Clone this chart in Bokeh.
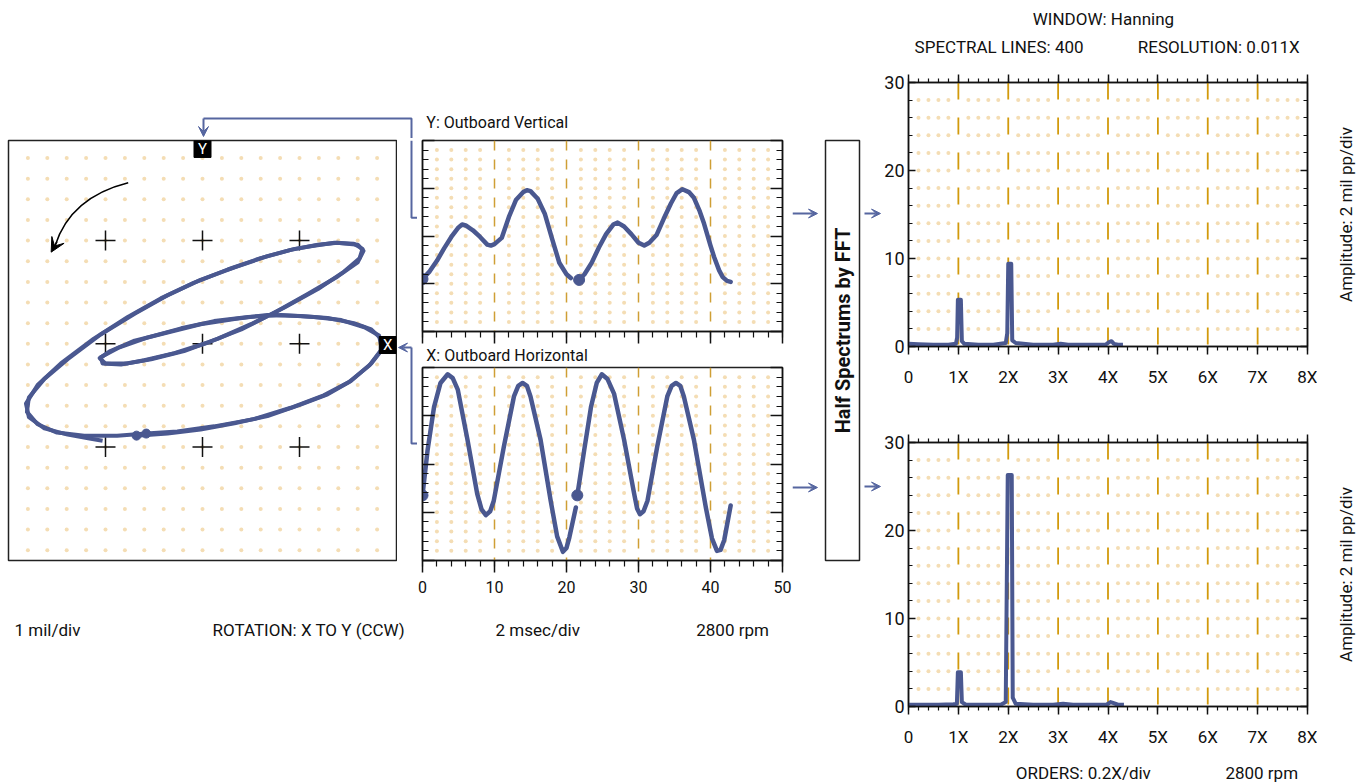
import numpy as np
from bokeh.plotting import figure
from bokeh.models import (Range1d, LinearAxis, SingleIntervalTicker, Label, Arrow, VeeHead)
from bokeh.layouts import row, column
from bokeh.embed import file_html
from bokeh.resources import INLINE
from bokeh.core.properties import value

FONT = "Roboto"
BLUE = "#4A5890"
CONN = "#5666A0"
DOT = "#F4DDB4"
WDASH = "#CF9F35"
SDASH = "#D29A0C"
INK = "#111111"

# ---------------- data ----------------
# orbit (mil), two revolutions
orbit_x1 = [-0.68, -0.36, -0.02, 0.33, 0.67, 1.01, 1.29, 1.53, 1.74, 1.84, 1.84, 1.74, 1.56, 1.29,
            1.01, 0.67, 0.33, -0.02, -0.36, -0.70, -0.95, -1.06, -1.00, -0.77, -0.53, -0.19, 0.16,
            0.50, 0.84, 1.19, 1.46, 1.62, 1.65, 1.56, 1.36, 1.15, 0.95, 0.67, 0.33, -0.02, -0.36,
            -0.70, -1.05, -1.39, -1.63, -1.79, -1.81, -1.70, -1.50, -1.22, -0.88, -0.58]
orbit_y1 = [-0.89, -0.87, -0.83, -0.77, -0.70, -0.59, -0.49, -0.36, -0.19, -0.07, 0.05, 0.14, 0.20,
            0.25, 0.27, 0.28, 0.24, 0.19, 0.11, 0.03, -0.07, -0.14, -0.19, -0.19, -0.15, -0.07, 0.05,
            0.19, 0.35, 0.53, 0.70, 0.83, 0.92, 0.97, 0.98, 0.95, 0.92, 0.85, 0.74, 0.62, 0.47, 0.29,
            0.09, -0.15, -0.34, -0.52, -0.66, -0.78, -0.86, -0.89, -0.89, -0.87]
orbit_x2 = [-0.58, -0.26, 0.12, 0.53, 0.91, 1.25, 1.51, 1.72, 1.85, 1.82, 1.67, 1.43, 1.15, 0.81,
            0.47, 0.12, -0.22, -0.57, -0.87, -1.05, -1.03, -0.84, -0.60, -0.29, 0.05, 0.40, 0.74,
            1.08, 1.39, 1.60, 1.66, 1.60, 1.39, 1.19, 0.91, 0.60, 0.26, -0.09, -0.43, -0.77, -1.12,
            -1.46, -1.70, -1.82, -1.79, -1.63, -1.39, -1.15, -1.03]
orbit_y2 = [-0.87, -0.85, -0.80, -0.73, -0.62, -0.50, -0.37, -0.21, -0.05, 0.08, 0.16, 0.23, 0.26,
            0.28, 0.26, 0.22, 0.15, 0.06, -0.04, -0.13, -0.19, -0.20, -0.16, -0.09, 0.01, 0.14, 0.30,
            0.48, 0.65, 0.79, 0.90, 0.96, 0.98, 0.96, 0.91, 0.83, 0.72, 0.59, 0.44, 0.26, 0.05, -0.19,
            -0.40, -0.58, -0.71, -0.82, -0.88, -0.92, -0.94]
cross_x = [-1, 0, 1, -1, 0, 1, -1, 0, 1]
cross_y = [1, 1, 1, 0, 0, 0, -1, -1, -1]

# Y: Outboard Vertical waveform (msec, divisions)
wy_t1 = [0, 1, 2, 3, 4, 5, 5.5, 6, 7, 8, 9, 9.5, 10, 11, 12, 13, 14, 14.5, 15, 16, 17, 18, 19, 20, 20.6]
wy_v1 = [-4.5, -3.7, -2.6, -1.3, -0.1, 0.9, 1.2, 1.1, 0.6, -0.1, -0.9, -1.0, -0.85, -0.2, 2.0, 3.8,
         4.6, 4.8, 4.7, 3.9, 2.3, -0.3, -2.8, -4.0, -4.4]
wy_t2 = [21.75, 22.5, 23.5, 24.5, 25.5, 26.5, 27.1, 28, 29, 30, 30.8, 31.5, 32.5, 33.5, 34.5, 35.3,
         36.1, 37, 37.7, 38.5, 39.1, 40, 40.5, 41.2, 41.7, 42.3, 42.8]
wy_v2 = [-4.6, -4.0, -2.8, -1.2, 0.2, 1.2, 1.4, 1.0, 0.2, -0.7, -1.0, -0.7, 0.1, 1.8, 3.4, 4.5, 4.9,
         4.6, 4.0, 2.6, 1.3, -1.0, -2.2, -3.6, -4.3, -4.7, -4.8]

# X: Outboard Horizontal waveform
wx_t1 = [0, 0.7, 1.6, 2.5, 3.5, 4.2, 4.9, 6.25, 7.6, 8.2, 8.8, 9.4, 9.9, 11.3, 12.7, 13.3, 13.9,
         14.5, 15.0, 16.4, 17.8, 18.7, 19.5, 20.0, 20.4, 21.3]
wx_v1 = [-3.25, 1.4, 5.9, 8.4, 9.3, 8.9, 7.7, 2.5, -3.1, -4.7, -5.3, -4.9, -3.8, 1.8, 7.0, 8.1, 8.4,
         8.1, 7.0, 2.5, -3.8, -7.5, -9.1, -8.7, -7.6, -4.5]
wx_t2 = [21.5, 22.45, 23.4, 24.2, 24.9, 25.7, 26.6, 28.0, 29.4, 29.8, 30.2, 30.7, 31.25, 32.6, 34.0,
         34.6, 35.2, 35.8, 36.3, 37.7, 39.35, 40.2, 40.9, 41.4, 41.9, 42.8]
wx_v2 = [-3.25, 1.4, 5.9, 8.4, 9.3, 8.8, 7.3, 2.5, -3.1, -4.6, -5.2, -4.9, -3.8, 1.8, 7.0, 8.1, 8.4,
         8.1, 7.0, 2.5, -4.5, -7.7, -9.0, -8.9, -7.9, -4.3]

# half spectra (orders, mil pp)
spec_top_x = [0.0, 0.2, 0.5, 0.8, 0.95, 0.975, 0.99, 1.05, 1.07, 1.12, 1.4, 1.7, 1.95, 1.98, 2.0,
              2.06, 2.08, 2.15, 2.5, 2.9, 3.05, 3.2, 3.6, 3.95, 4.02, 4.07, 4.12, 4.2, 4.3]
spec_top_y = [0.3, 0.25, 0.2, 0.2, 0.3, 1.0, 5.3, 5.3, 0.6, 0.3, 0.2, 0.2, 0.4, 1.5, 9.4, 9.4, 0.7,
              0.4, 0.2, 0.2, 0.3, 0.2, 0.2, 0.2, 0.5, 0.6, 0.3, 0.2, 0.2]
spec_bot_x = [0.0, 0.3, 0.6, 0.9, 0.97, 0.99, 1.01, 1.05, 1.07, 1.15, 1.5, 1.85, 1.95, 1.99, 2.01,
              2.07, 2.09, 2.15, 2.5, 2.9, 3.1, 3.3, 3.7, 3.97, 4.05, 4.1, 4.2, 4.32]
spec_bot_y = [0.2, 0.2, 0.2, 0.25, 0.3, 3.9, 3.9, 3.9, 0.5, 0.2, 0.2, 0.2, 0.5, 26.3, 26.3, 26.3,
              1.0, 0.3, 0.2, 0.2, 0.3, 0.2, 0.2, 0.2, 0.5, 0.4, 0.2, 0.2]

time_ticks = [0, 10, 20, 30, 40, 50]
order_ticks = [0, 1, 2, 3, 4, 5, 6, 7, 8]
order_labels = ["0", "1X", "2X", "3X", "4X", "5X", "6X", "7X", "8X"]
amp_ticks = [0, 10, 20, 30]


# ---------------- helpers ----------------
def label(p, x, y, text, size="17px", align="left", baseline="middle", angle=0, color=INK, bold=False):
    p.add_layout(Label(x=x, y=y, text=text, text_font=FONT, text_font_size=size,
                       text_align=align, text_baseline=baseline, angle=angle, text_color=color,
                       text_font_style="bold" if bold else "normal"))


def arrow(p, x0, y0, x1, y1, size=9, color=CONN, width=2):
    p.add_layout(Arrow(x_start=x0, y_start=y0, x_end=x1, y_end=y1, line_color=color,
                       line_width=width,
                       end=VeeHead(size=size, fill_color=color, line_color=color, line_width=1)))


def deco(x0, x1, y0, y1):
    """blank panel whose frame is the whole panel, in page pixel units (y down)"""
    p = figure(width=x1 - x0, height=y1 - y0, x_range=Range1d(x0, x1), y_range=Range1d(y1, y0),
               min_border_left=0, min_border_right=0, min_border_top=0, min_border_bottom=0,
               x_axis_location=None, y_axis_location=None, toolbar_location=None,
               output_backend="svg", outline_line_color=None)
    p.grid.visible = False
    return p


def grid_dots(p, xs, ys):
    gx, gy = np.meshgrid(xs, ys)
    p.scatter(gx.ravel(), gy.ravel(), size=4, color=DOT, line_color=None)


def style_axis(ax, tin, tout, mtin, mtout, labels=False, size="16px", standoff=0):
    ax.major_tick_in = tin
    ax.major_tick_out = tout
    ax.minor_tick_in = mtin
    ax.minor_tick_out = mtout
    ax.axis_line_color = INK
    ax.axis_line_width = 1.5
    ax.major_tick_line_color = INK
    ax.minor_tick_line_color = INK
    ax.major_tick_line_width = 1.5
    ax.minor_tick_line_width = 1.2
    ax.major_label_standoff = standoff
    if labels:
        ax.major_label_text_font = FONT
        ax.major_label_text_font_size = size
        ax.major_label_text_color = INK
    else:
        ax.major_label_text_font_size = "0px"
        ax.major_label_text_color = None


# ================= column 1 : orbit =================
X1 = 417  # right edge of the orbit column
A_top = deco(0, X1, 0, 138)
A_top.line([203, 411, 411], [118, 118, 138], line_color=CONN, line_width=2)
arrow(A_top, 203, 118, 203, 136, size=10)

pA = figure(width=397, height=424, x_range=Range1d(-2, 2), y_range=Range1d(-2.10, 1.97),
            min_border_left=8, min_border_right=1, min_border_top=2, min_border_bottom=2,
            x_axis_location=None, y_axis_location=None, toolbar_location=None,
            output_backend="svg", outline_line_color="#222222", outline_line_width=1.5)
pA.grid.visible = False
grid_dots(pA, np.round(np.arange(-1.8, 1.81, 0.2), 2), np.round(np.arange(-2.0, 1.81, 0.2), 2))
pA.scatter(cross_x, cross_y, marker="cross", size=20, line_color=INK, line_width=1.5)
pA.line(orbit_x1, orbit_y1, line_width=4, color=BLUE, line_join="round")
pA.line(orbit_x2, orbit_y2, line_width=4, color=BLUE, line_join="round")
pA.scatter([orbit_x1[0], orbit_x2[0]], [orbit_y1[0], orbit_y2[0]], size=9, color=BLUE)
pA.scatter([0, 1.91], [1.888, -0.012], marker="square", size=17, color="black")
pA.text(x=[0, 1.91], y=[1.888, -0.012], text=["Y", "X"], text_color="white", text_align="center",
        text_baseline="middle", text_font=value(FONT), text_font_size="15px")
pA.quadratic(x0=[-0.766], y0=[1.56], x1=[-1.52], y1=[0.95], cx=[-1.36], cy=[1.42],
             line_color="black", line_width=1.5)
arrow(pA, -1.50, 0.99, -1.56, 0.888, size=14, color="black", width=1.5)

A_strip = deco(397, X1, 138, 562)
A_strip.line([411, 411, X1], [138, 216, 216], line_color=CONN, line_width=2)
A_strip.line([X1, 411, 411], [444, 444, 347], line_color=CONN, line_width=2)
arrow(A_strip, 411, 347, 398, 347, size=9)

A_bot = deco(0, X1, 562, 784)
label(A_bot, 14, 629, "1 mil/div")
label(A_bot, 212, 629, "ROTATION: X TO Y (CCW)")

col1 = column(A_top, row(pA, A_strip), A_bot)

# ================= column 2 : waveforms =================
X2 = 792  # right edge of the waveform column
WL, WR = 5, 10


def wave_fig(height, top, bottom, show_labels):
    p = figure(width=X2 - X1, height=height, x_range=Range1d(0, 50), y_range=Range1d(-10, 10),
               min_border_left=WL, min_border_right=WR, min_border_top=top,
               min_border_bottom=bottom, toolbar_location=None, output_backend="svg",
               outline_line_color="#222222", outline_line_width=1.5)
    p.grid.visible = False
    xa = p.xaxis[0]
    xa.ticker = SingleIntervalTicker(interval=10, num_minor_ticks=5)
    style_axis(xa, 0, 12, 0, 6, labels=show_labels, size="16px", standoff=8)
    ya = p.yaxis[0]
    ya.ticker = SingleIntervalTicker(interval=5, num_minor_ticks=5)
    style_axis(ya, 12, 0, 6, 0)
    ra = LinearAxis(ticker=SingleIntervalTicker(interval=5, num_minor_ticks=5))
    style_axis(ra, 12, 0, 6, 0)
    p.add_layout(ra, "right")
    xs = [v for v in range(2, 50, 2) if v % 10]
    grid_dots(p, xs, list(range(-9, 10)))
    p.segment(x0=[10, 20, 30, 40], y0=10, x1=[10, 20, 30, 40], y1=-10, line_color=WDASH,
              line_width=1.5, line_dash="10 9")
    return p


W_top = deco(X1, X2, 0, 139)
label(W_top, 421, 122, "Y: Outboard Vertical", size="16px")

pY = wave_fig(206, 1, 14, False)
pY.line(wy_t1, wy_v1, line_width=4.5, color=BLUE, line_join="round", line_cap="round")
pY.line(wy_t2, wy_v2, line_width=4.5, color=BLUE, line_join="round", line_cap="round")
pY.scatter([wy_t1[0], wy_t2[0]], [wy_v1[0], wy_v2[0]], size=11, color=BLUE)

W_mid = deco(X1, X2, 345, 366)
label(W_mid, 421, 355, "X: Outboard Horizontal", size="16px")

pX = wave_fig(239, 1, 45, True)
pX.line(wx_t1, wx_v1, line_width=4.5, color=BLUE, line_join="round", line_cap="round")
pX.line(wx_t2, wx_v2, line_width=4.5, color=BLUE, line_join="round", line_cap="round")
pX.scatter([wx_t1[0], wx_t2[0]], [wx_v1[0], wx_v2[0]], size=11, color=BLUE)
pX.xaxis[0].major_label_overrides = {t: str(t) for t in time_ticks}

W_bot = deco(X1, X2, 605, 784)
label(W_bot, 537, 629, "2 msec/div", align="center")
label(W_bot, 740, 629, "2800 rpm", align="center")

col2 = column(W_top, pY, W_mid, pX, W_bot)

# ================= column 3 : FFT box =================
X3 = 881
F = deco(X2, X3, 0, 784)
arrow(F, X2, 213, 817, 213)
arrow(F, X2, 487, 817, 487)
F.quad(left=[825], right=[859], top=[140], bottom=[560], fill_color=None, line_color="#222222",
       line_width=1.5)
label(F, 842, 330, "Half Spectrums by FFT", size="20px", align="center", angle=np.pi / 2, bold=True)
arrow(F, 864, 213, 880, 213)
arrow(F, 864, 486, 880, 486)

# ================= column 4 : spectra =================
X4 = 1317
SL, SR = 26, 10


def spec_fig(height, top, bottom):
    p = figure(width=X4 - X3, height=height, x_range=Range1d(0, 8), y_range=Range1d(0, 30),
               min_border_left=SL, min_border_right=SR, min_border_top=top,
               min_border_bottom=bottom, toolbar_location=None, output_backend="svg",
               outline_line_color="#222222", outline_line_width=1.5)
    p.grid.visible = False
    xa = p.xaxis[0]
    xa.ticker = SingleIntervalTicker(interval=1, num_minor_ticks=5)
    style_axis(xa, 0, 8, 0, 4, labels=True, size="17px", standoff=12)
    xa.major_label_overrides = dict(zip(order_ticks, order_labels))
    ta = LinearAxis(ticker=SingleIntervalTicker(interval=1, num_minor_ticks=5))
    style_axis(ta, 0, 8, 0, 4)
    p.add_layout(ta, "above")
    ya = p.yaxis[0]
    ya.ticker = SingleIntervalTicker(interval=10, num_minor_ticks=5)
    style_axis(ya, 7, 0, 4, 0, labels=True, size="18px", standoff=4)
    ya.major_label_overrides = {t: str(t) for t in amp_ticks}
    ra = LinearAxis(ticker=SingleIntervalTicker(interval=10, num_minor_ticks=5))
    style_axis(ra, 7, 0, 4, 0)
    p.add_layout(ra, "right")
    xs = [round(v * 0.2, 1) for v in range(1, 40) if v % 5]
    grid_dots(p, xs, list(range(2, 30, 2)))
    p.segment(x0=[1, 2, 3, 4, 5, 6, 7], y0=30, x1=[1, 2, 3, 4, 5, 6, 7], y1=0,
              line_color=SDASH, line_width=1.8, line_dash="17 18")
    return p


S_top = deco(X3, X4, 0, 72)
label(S_top, 1094, 18, "WINDOW: Hanning", align="center")
label(S_top, 980, 46, "SPECTRAL LINES: 400", align="center")
label(S_top, 1220, 46, "RESOLUTION: 0.011X", align="center")

pT = spec_fig(319, 10, 45)
pT.line(spec_top_x, spec_top_y, line_width=4, color=BLUE, line_join="round")

S_mid = deco(X3, X4, 391, 432)

pB = spec_fig(319, 10, 45)
pB.line(spec_bot_x, spec_bot_y, line_width=4, color=BLUE, line_join="round")

S_bot = deco(X3, X4, 751, 784)
label(S_bot, 1072, 772, "ORDERS: 0.2X/div", align="center")
label(S_bot, 1267, 772, "2800 rpm", align="center")

S_right = deco(X4, 1361, 0, 784)
label(S_right, 1345, 214, "Amplitude: 2 mil pp/div", align="center", angle=np.pi / 2)
label(S_right, 1345, 574, "Amplitude: 2 mil pp/div", align="center", angle=np.pi / 2)

col4 = row(column(S_top, pT, S_mid, pB, S_bot), S_right)

layout = row(col1, col2, F, col4)
open("out.html", "w").write(file_html(layout, INLINE))
